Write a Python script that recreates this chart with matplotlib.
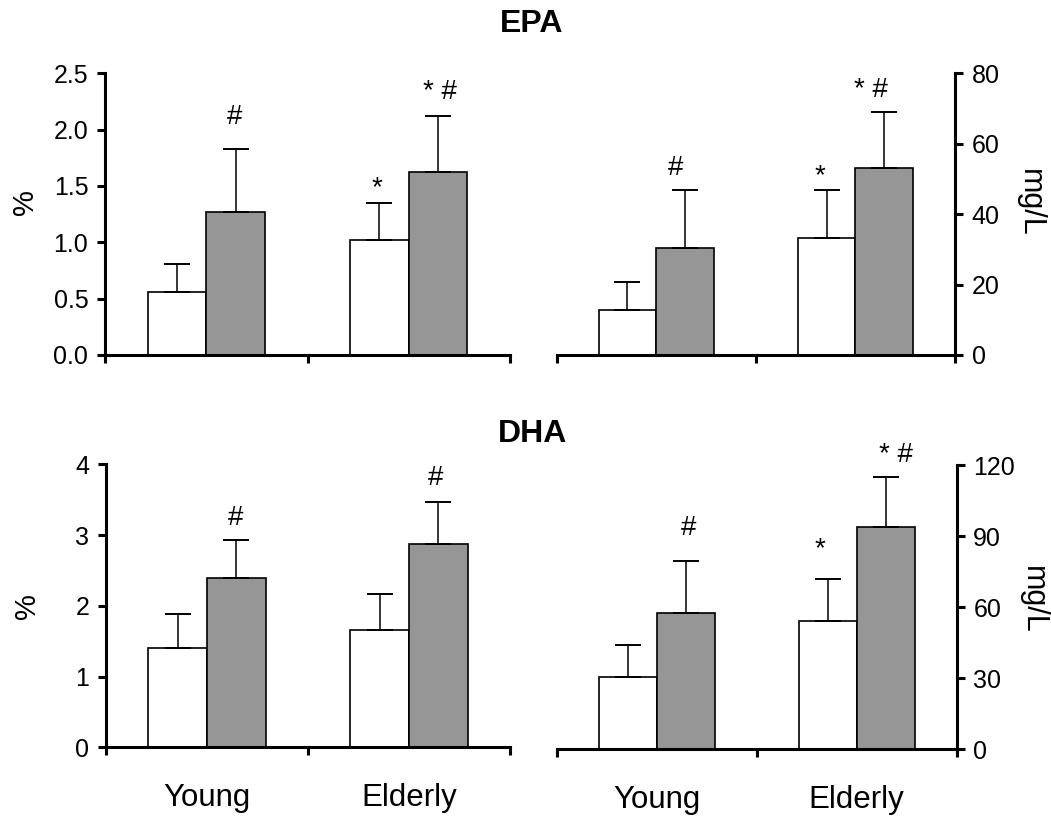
import matplotlib
matplotlib.use("Agg")
import matplotlib.pyplot as plt
import numpy as np

plt.rcParams['font.family'] = ['Liberation Sans', 'DejaVu Sans']

# ---------------- data ----------------
groups = ["Young", "Elderly"]

epa_pct_white = [0.56, 1.02]
epa_pct_white_sd = [0.25, 0.33]
epa_pct_gray = [1.27, 1.62]
epa_pct_gray_sd = [0.56, 0.50]
epa_pct_white_sig = ["", "*"]
epa_pct_gray_sig = ["#", "* #"]

epa_mg_white = [12.8, 33.1]
epa_mg_white_sd = [8.0, 13.7]
epa_mg_gray = [30.3, 53.0]
epa_mg_gray_sd = [16.5, 15.9]
epa_mg_white_sig = ["", "*"]
epa_mg_gray_sig = ["#", "* #"]

dha_pct_white = [1.40, 1.66]
dha_pct_white_sd = [0.48, 0.51]
dha_pct_gray = [2.39, 2.87]
dha_pct_gray_sd = [0.54, 0.60]
dha_pct_white_sig = ["", ""]
dha_pct_gray_sig = ["#", "#"]

dha_mg_white = [30.6, 54.3]
dha_mg_white_sd = [13.4, 17.7]
dha_mg_gray = [57.7, 94.0]
dha_mg_gray_sd = [21.9, 20.8]
dha_mg_white_sig = ["", "*"]
dha_mg_gray_sig = ["#", "* #"]

epa_pct_ticks = [0.0, 0.5, 1.0, 1.5, 2.0, 2.5]
epa_pct_ticklabels = ["0.0", "0.5", "1.0", "1.5", "2.0", "2.5"]
epa_mg_ticks = [0, 20, 40, 60, 80]
dha_pct_ticks = [0, 1, 2, 3, 4]
dha_mg_ticks = [0, 30, 60, 90, 120]

# ---------------- style ----------------
W, H = 1051, 819
fig = plt.figure(figsize=(W / 100, H / 100), dpi=100)

GRAY = "#969696"
BAR_W = 0.29
SPINE_W = 2.2
SIG_FS = 20

def px_rect(x0, y_top, x1, y_bot):
    return [x0 / W, 1 - y_bot / H, (x1 - x0) / W, (y_bot - y_top) / H]

panels = [
    dict(rect=px_rect(105, 73.3, 510, 355), right=False, ylim=(0, 2.5),
         ticks=epa_pct_ticks, ticklabels=epa_pct_ticklabels,
         white=epa_pct_white, wsd=epa_pct_white_sd, gray=epa_pct_gray, gsd=epa_pct_gray_sd,
         wsig=epa_pct_white_sig, gsig=epa_pct_gray_sig,
         woff=[(0, 0), (-2, 8)], goff=[(-1, 25), (2, 16.7)], xlabels=False),
    dict(rect=px_rect(556.7, 73.3, 955, 355), right=True, ylim=(0, 80),
         ticks=epa_mg_ticks, ticklabels=[str(t) for t in epa_mg_ticks],
         white=epa_mg_white, wsd=epa_mg_white_sd, gray=epa_mg_gray, gsd=epa_mg_gray_sd,
         wsig=epa_mg_white_sig, gsig=epa_mg_gray_sig,
         woff=[(0, 0), (-7, 7.3)], goff=[(-10, 15), (-13, 15.6)], xlabels=False),
    dict(rect=px_rect(106, 464.3, 510, 747.3), right=False, ylim=(0, 4),
         ticks=dha_pct_ticks, ticklabels=[str(t) for t in dha_pct_ticks],
         white=dha_pct_white, wsd=dha_pct_white_sd, gray=dha_pct_gray, gsd=dha_pct_gray_sd,
         wsig=dha_pct_white_sig, gsig=dha_pct_gray_sig,
         woff=[(0, 0), (0, 0)], goff=[(-1, 15), (-3, 17)], xlabels=True),
    dict(rect=px_rect(556.7, 465, 956.7, 749.3), right=True, ylim=(0, 120),
         ticks=dha_mg_ticks, ticklabels=[str(t) for t in dha_mg_ticks],
         white=dha_mg_white, wsd=dha_mg_white_sd, gray=dha_mg_gray, gsd=dha_mg_gray_sd,
         wsig=dha_mg_white_sig, gsig=dha_mg_gray_sig,
         woff=[(0, 0), (-8, 22.7)], goff=[(3, 25.7), (10, 15.3)], xlabels=True),
]

for p in panels:
    ax = fig.add_axes(p["rect"])
    centers = np.arange(len(groups)) + 0.5
    xw = centers - BAR_W / 2
    xg = centers + BAR_W / 2
    ax.bar(xw, p["white"], width=BAR_W, color="white", edgecolor="black", linewidth=1.2, zorder=2)
    ax.bar(xg, p["gray"], width=BAR_W, color=GRAY, edgecolor="black", linewidth=1.2, zorder=2)
    zeros = [0] * len(groups)
    ax.errorbar(xw, p["white"], yerr=[zeros, p["wsd"]], fmt="none", ecolor="black",
                elinewidth=1.1, capsize=9.5, capthick=1.4, zorder=3)
    ax.errorbar(xg, p["gray"], yerr=[zeros, p["gsd"]], fmt="none", ecolor="black",
                elinewidth=1.1, capsize=9.5, capthick=1.4, zorder=3)
    # significance labels
    for xs, vals, sds, sigs, offs in [(xw, p["white"], p["wsd"], p["wsig"], p["woff"]),
                                      (xg, p["gray"], p["gsd"], p["gsig"], p["goff"])]:
        for x, v, s, lab, (dx, dy) in zip(xs, vals, sds, sigs, offs):
            if lab:
                ax.annotate(lab, xy=(x, v + s), xytext=(dx, dy), textcoords="offset pixels",
                            ha="center", va="baseline", fontsize=SIG_FS)

    ax.set_xlim(0, len(groups))
    ax.set_ylim(*p["ylim"])
    ax.set_xticks([0, 1, 2])
    ax.set_xticklabels([])
    ax.tick_params(axis="x", which="major", direction="out", length=6, width=SPINE_W)
    if p["xlabels"]:
        ax.set_xticks(centers, minor=True)
        ax.set_xticklabels(groups, minor=True, fontsize=22.5)
        ax.tick_params(axis="x", which="minor", length=0, pad=26)
    ax.set_yticks(p["ticks"])
    ax.set_yticklabels(p["ticklabels"], fontsize=18)
    ax.tick_params(axis="y", direction="out", length=6, width=SPINE_W, pad=6)
    ax.spines["top"].set_visible(False)
    if p["right"]:
        ax.yaxis.tick_right()
        ax.spines["left"].set_visible(False)
        ax.spines["right"].set_linewidth(SPINE_W)
    else:
        ax.spines["right"].set_visible(False)
        ax.spines["left"].set_linewidth(SPINE_W)
    ax.spines["bottom"].set_linewidth(SPINE_W)
    ax.spines["bottom"].set_zorder(4)
    ax.patch.set_visible(False)

# axis labels and titles
fig.text(25 / W, 1 - 202 / H, "%", rotation=90, ha="center", va="center", fontsize=21)
fig.text(26.7 / W, 1 - 606 / H, "%", rotation=90, ha="center", va="center", fontsize=21)
fig.text(1030 / W, 1 - 203 / H, "mg/L", rotation=270, ha="center", va="center", fontsize=22)
fig.text(1033 / W, 1 - 600 / H, "mg/L", rotation=270, ha="center", va="center", fontsize=22)
fig.text(532 / W, 1 - 24 / H, "EPA", ha="center", va="center", fontsize=23, fontweight="bold")
fig.text(532.5 / W, 1 - 434 / H, "DHA", ha="center", va="center", fontsize=23, fontweight="bold")

fig.savefig("out.png", dpi=100)
